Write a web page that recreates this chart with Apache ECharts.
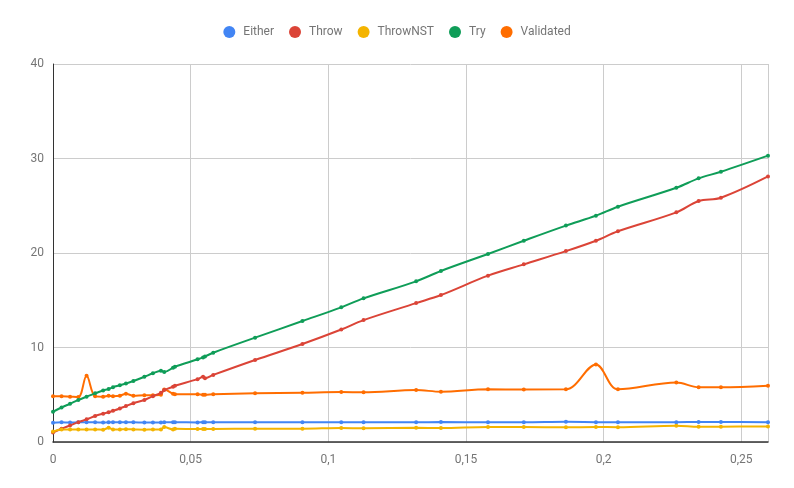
<!DOCTYPE html>
<html>
<head>
<meta charset="utf-8">
<script src="https://cdn.jsdelivr.net/npm/echarts@6/dist/echarts.min.js"></script>
<style>html,body{margin:0;padding:0;background:#fff}#c{width:794px;height:488px}</style>
</head>
<body>
<div id="c"></div>
<script>
const seriesNames = ['Either', 'Throw', 'ThrowNST', 'Try', 'Validated'];
const xValues = [0, 0.0031, 0.0062, 0.0092, 0.0122, 0.0153, 0.0182, 0.0202, 0.0218, 0.0243, 0.0265, 0.0292,
  0.0332, 0.0363, 0.0392, 0.0404, 0.0436, 0.0443, 0.0525, 0.0545, 0.0552, 0.0582, 0.0734, 0.0906, 0.1047,
  0.1128, 0.1319, 0.1409, 0.1580, 0.1710, 0.1863, 0.1972, 0.2052, 0.2264, 0.2345, 0.2426, 0.2597];
const either = [2.05, 2.08, 2.07, 2.08, 2.08, 2.08, 2.06, 2.08, 2.08, 2.09, 2.08, 2.08, 2.07, 2.07, 2.06, 2.08,
  2.1, 2.1, 2.07, 2.09, 2.08, 2.08, 2.08, 2.08, 2.08, 2.08, 2.08, 2.12, 2.08, 2.08, 2.13, 2.1, 2.09, 2.1, 2.12, 2.12, 2.1];
const throwV = [1.0, 1.4, 1.75, 2.1, 2.4, 2.75, 3.0, 3.15, 3.3, 3.55, 3.8, 4.1, 4.45, 4.85, 5.2, 5.5, 5.85, 5.95,
  6.65, 6.9, 6.75, 7.1, 8.68, 10.37, 11.9, 12.9, 14.7, 15.55, 17.6, 18.8, 20.2, 21.3, 22.3, 24.3, 25.5, 25.85, 28.1];
const throwNST = [1.1, 1.33, 1.33, 1.33, 1.33, 1.33, 1.3, 1.5, 1.33, 1.33, 1.35, 1.33, 1.3, 1.33, 1.33, 1.58, 1.33,
  1.4, 1.37, 1.37, 1.37, 1.37, 1.41, 1.41, 1.48, 1.45, 1.5, 1.48, 1.59, 1.58, 1.55, 1.59, 1.57, 1.73, 1.62, 1.62, 1.65];
const tryV = [3.2, 3.65, 4.05, 4.45, 4.8, 5.15, 5.45, 5.6, 5.8, 6.0, 6.2, 6.45, 6.9, 7.27, 7.54, 7.4, 7.86, 7.97,
  8.75, 8.95, 9.05, 9.45, 11.04, 12.8, 14.25, 15.2, 17.0, 18.1, 19.9, 21.3, 22.9, 23.95, 24.9, 26.9, 27.9, 28.6, 30.3];
const validated = [4.85, 4.85, 4.8, 4.75, 7.0, 4.85, 4.8, 4.9, 4.85, 4.9, 5.1, 4.9, 4.95, 4.95, 5.0, 5.55, 5.1, 5.05,
  5.05, 5.0, 5.0, 5.04, 5.15, 5.22, 5.29, 5.26, 5.5, 5.32, 5.57, 5.55, 5.57, 8.2, 5.57, 6.3, 5.8, 5.8, 5.96];
const yTicks = [0, 10, 20, 30, 40];
const xTicks = [0, 0.05, 0.1, 0.15, 0.2, 0.25];

const colors = ['#4285F4', '#DB4437', '#F4B400', '#0F9D58', '#FF6D00'];
const allValues = [either, throwV, throwNST, tryV, validated];

const chart = echarts.init(document.getElementById('c'), null, {renderer: 'canvas'});
chart.setOption({
  animation: false,
  color: colors,
  textStyle: {fontFamily: 'Roboto'},
  legend: {
    top: 21, left: 'center', icon: 'circle', itemWidth: 12, itemHeight: 12, itemGap: 15,
    textStyle: {color: '#757575', fontSize: 12, fontFamily: 'Roboto', padding: [0, 0, 0, 3]},
    data: seriesNames
  },
  grid: {left: 53, right: 26, top: 64, bottom: 46, containLabel: false},
  xAxis: {
    type: 'value', min: 0, max: xValues[xValues.length - 1], interval: 0.05,
    axisLine: {show: true, lineStyle: {color: '#333', width: 1.5}},
    axisTick: {show: false},
    splitLine: {show: true, lineStyle: {color: '#cccccc'}},
    axisLabel: {
      color: '#757575', fontSize: 12, margin: 12, showMaxLabel: false,
      formatter: v => xTicks.some(t => Math.abs(t - v) < 1e-9) ? String(+v.toFixed(2)).replace('.', ',') : ''
    }
  },
  yAxis: {
    type: 'value', min: yTicks[0], max: yTicks[yTicks.length - 1], interval: 10,
    axisLine: {show: true, lineStyle: {color: '#333', width: 1}},
    axisTick: {show: false},
    splitLine: {show: true, lineStyle: {color: '#cccccc'}},
    axisLabel: {color: '#757575', fontSize: 12, margin: 9}
  },
  series: seriesNames.map((name, i) => ({
    name, type: 'line', smooth: 0.35,
    symbol: 'circle', symbolSize: 4, showSymbol: true,
    lineStyle: {width: 2},
    z: i === 4 ? 1 : 2,
    data: xValues.map((x, j) => [x, allValues[i][j]])
  }))
});
</script>
</body>
</html>
